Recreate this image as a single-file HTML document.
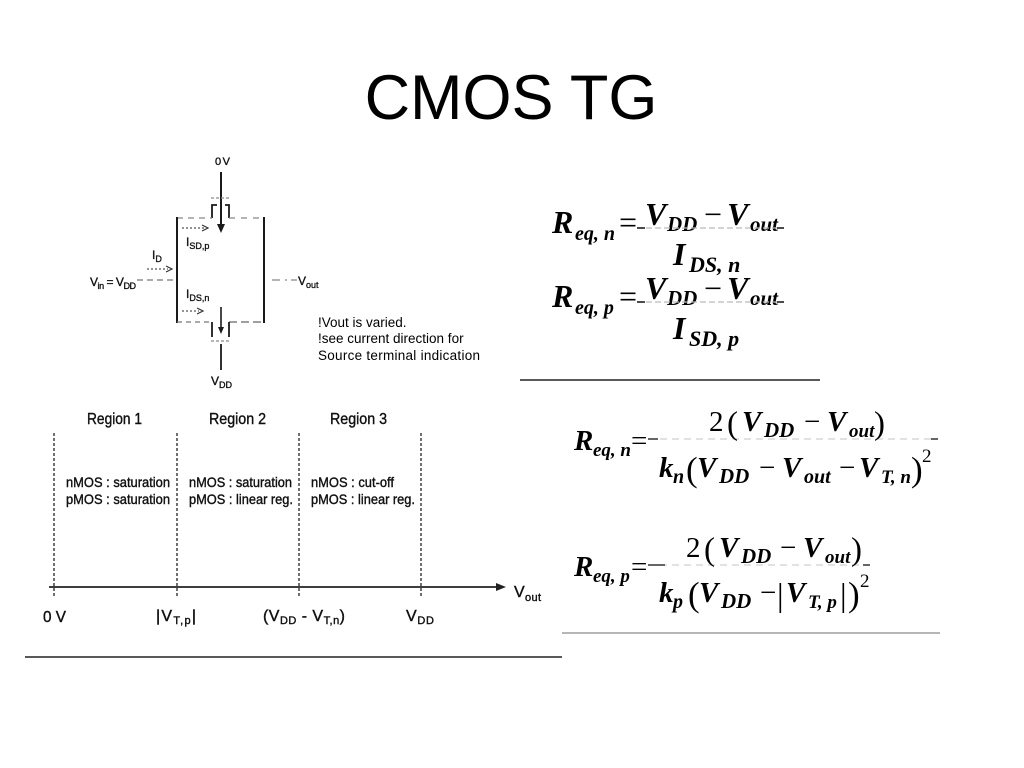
<!DOCTYPE html>
<html><head><meta charset="utf-8">
<style>
html,body{margin:0;padding:0;background:#fff;}
svg{display:block;}
</style></head><body>
<svg width="1024" height="768" viewBox="0 0 1024 768" xmlns="http://www.w3.org/2000/svg">
<rect width="1024" height="768" fill="#fff"/>

<!-- Title -->
<text x="511" y="119" font-family="Liberation Sans, Arial, sans-serif" font-size="63" text-anchor="middle" fill="#000">CMOS TG</text>

<!-- ================= Circuit ================= -->
<g stroke="#1a1a1a" fill="none">
  <line x1="221" y1="172" x2="221" y2="226" stroke-width="2"/>
  <polygon points="217,224 225,224 221,233" fill="#1a1a1a" stroke="none"/>
  <polyline points="212,218 212,205 217,205" stroke-width="1.8"/>
  <polyline points="229,218 229,205 225,205" stroke-width="1.8"/>
  <line x1="211" y1="198" x2="231" y2="198" stroke="#8a8a8a" stroke-dasharray="3 2" stroke-width="1.2"/>
  <line x1="177" y1="218" x2="212" y2="218" stroke="#888" stroke-dasharray="6 5" stroke-width="1.2"/>
  <line x1="229" y1="218" x2="264" y2="218" stroke="#888" stroke-dasharray="6 6" stroke-width="1.2"/>
  <line x1="177" y1="217" x2="177" y2="323" stroke-width="2"/>
  <line x1="264" y1="217" x2="264" y2="323" stroke-width="2"/>
  <line x1="177" y1="322" x2="212" y2="322" stroke="#777" stroke-dasharray="5 4" stroke-width="1.2"/>
  <line x1="229" y1="322" x2="264" y2="322" stroke="#666" stroke-dasharray="8 4" stroke-width="1.2"/>
  <line x1="212" y1="322" x2="212" y2="337" stroke-width="1.8"/>
  <line x1="229" y1="322" x2="229" y2="337" stroke-width="1.8"/>
  <line x1="211" y1="341" x2="231" y2="341" stroke="#8a8a8a" stroke-dasharray="3 2" stroke-width="1.2"/>
  <line x1="221" y1="307" x2="221" y2="328" stroke-width="1.6"/>
  <polygon points="218,327 224,327 221,334" fill="#1a1a1a" stroke="none"/>
  <line x1="221" y1="344" x2="221" y2="370" stroke-width="1.8"/>
  <line x1="137" y1="280" x2="176" y2="280" stroke="#777" stroke-dasharray="6 4" stroke-width="1.2"/>
  <line x1="272" y1="280" x2="297" y2="280" stroke="#888" stroke-dasharray="8 5 2 4" stroke-width="1.2"/>
  <line x1="182" y1="228" x2="204" y2="228" stroke="#555" stroke-dasharray="2 2" stroke-width="1.2"/>
  <polyline points="202,225 208,228 202,231" stroke="#333" stroke-width="1.2"/>
  <line x1="147" y1="269" x2="168" y2="269" stroke="#555" stroke-dasharray="2 2" stroke-width="1.2"/>
  <polyline points="166,266 172,269 166,272" stroke="#333" stroke-width="1.2"/>
  <line x1="182" y1="311" x2="199" y2="311" stroke="#555" stroke-dasharray="2 2" stroke-width="1.2"/>
  <polyline points="197,308 203,311 197,314" stroke="#333" stroke-width="1.2"/>
</g>
<g font-family="Liberation Sans, Arial, sans-serif" fill="#111" stroke="#111" stroke-width="0.35">
  <text x="215" y="165" font-size="11" textLength="15">0 V</text>
  <text x="152" y="259" font-size="12">I<tspan font-size="9" dy="3">D</tspan></text>
  <text x="186" y="246" font-size="12">I<tspan font-size="9" dy="3">SD,p</tspan></text>
  <text x="186" y="298" font-size="12">I<tspan font-size="9" dy="3">DS,n</tspan></text>
  <text x="90" y="286" font-size="12" textLength="46">V<tspan font-size="9" dy="3">in</tspan><tspan dy="-3"> = V</tspan><tspan font-size="9" dy="3">DD</tspan></text>
  <text x="298" y="285" font-size="12">V<tspan font-size="9" dy="3">out</tspan></text>
  <text x="211" y="385" font-size="12">V<tspan font-size="9" dy="3">DD</tspan></text>
</g>

<!-- Note -->
<g font-family="Liberation Sans, Arial, sans-serif" font-size="13.5" fill="#000">
  <text x="318" y="327">!Vout is varied.</text>
  <text x="318" y="343">!see current direction for</text>
  <text x="318" y="360" textLength="162">Source terminal indication</text>
</g>

<!-- ================= Region chart ================= -->
<g stroke="#222" stroke-width="1.3" stroke-dasharray="3 2">
  <line x1="54" y1="433" x2="54" y2="598"/>
  <line x1="177" y1="433" x2="177" y2="598"/>
  <line x1="299" y1="433" x2="299" y2="598"/>
  <line x1="421" y1="433" x2="421" y2="598"/>
</g>
<line x1="49" y1="587" x2="499" y2="587" stroke="#222" stroke-width="1.7"/>
<polygon points="496,583 506,587 496,591" fill="#222"/>
<g font-family="Liberation Sans, Arial, sans-serif" fill="#111" stroke="#111" stroke-width="0.4">
  <text x="87" y="424" font-size="16" textLength="55" lengthAdjust="spacingAndGlyphs">Region 1</text>
  <text x="209" y="424" font-size="16" textLength="57" lengthAdjust="spacingAndGlyphs">Region 2</text>
  <text x="330" y="424" font-size="16" textLength="57" lengthAdjust="spacingAndGlyphs">Region 3</text>

  <text x="66" y="487" font-size="14" textLength="104" lengthAdjust="spacingAndGlyphs">nMOS : saturation</text>
  <text x="66" y="504" font-size="14" textLength="104" lengthAdjust="spacingAndGlyphs">pMOS : saturation</text>
  <text x="189" y="487" font-size="14" textLength="103" lengthAdjust="spacingAndGlyphs">nMOS : saturation</text>
  <text x="189" y="504" font-size="14" textLength="104" lengthAdjust="spacingAndGlyphs">pMOS : linear reg.</text>
  <text x="311" y="487" font-size="14" textLength="83" lengthAdjust="spacingAndGlyphs">nMOS : cut-off</text>
  <text x="311" y="504" font-size="14" textLength="104" lengthAdjust="spacingAndGlyphs">pMOS : linear reg.</text>

  <text x="43" y="622" font-size="16" textLength="23" lengthAdjust="spacingAndGlyphs">0 V</text>
  <text x="156" y="621" font-size="16" textLength="40">|V<tspan font-size="11" dy="3">T,p</tspan><tspan dy="-3">|</tspan></text>
  <text x="263" y="621" font-size="16" textLength="82">(V<tspan font-size="11" dy="3">DD</tspan><tspan dy="-3"> - V</tspan><tspan font-size="11" dy="3">T,n</tspan><tspan dy="-3">)</tspan></text>
  <text x="406" y="621" font-size="16" textLength="28">V<tspan font-size="11" dy="3">DD</tspan></text>
  <text x="514" y="597" font-size="16" textLength="27">V<tspan font-size="11" dy="4">out</tspan></text>
</g>
<line x1="25" y1="657" x2="562" y2="657" stroke="#222" stroke-width="1.5"/>

<!-- ================= Top formulas ================= -->
<g font-family="Liberation Serif, Times New Roman, serif" fill="#000">
  <text x="552" y="233" font-size="32" font-weight="bold" font-style="italic">R</text>
  <text x="575" y="240" font-size="20" font-weight="bold" font-style="italic">eq, n</text>
  <text x="619" y="233" font-size="32">=</text>
  <text x="645" y="225" font-size="32" font-weight="bold" font-style="italic">V</text>
  <text x="667" y="231" font-size="21" font-weight="bold" font-style="italic">DD</text>
  <text x="704" y="225" font-size="32">−</text>
  <text x="727" y="225" font-size="32" font-weight="bold" font-style="italic">V</text>
  <text x="750" y="231" font-size="21" font-weight="bold" font-style="italic">out</text>
  <text x="673" y="265" font-size="32" font-weight="bold" font-style="italic">I</text>
  <text x="689" y="272" font-size="22" font-weight="bold" font-style="italic">DS, n</text>
  <line x1="637" y1="228" x2="784" y2="228" stroke="#bbb" stroke-width="1.2" stroke-dasharray="6 3"/>
  <line x1="637" y1="228" x2="645" y2="228" stroke="#222" stroke-width="1.6"/>
  <line x1="777" y1="228" x2="784" y2="228" stroke="#222" stroke-width="1.6"/>

  <text x="552" y="307" font-size="32" font-weight="bold" font-style="italic">R</text>
  <text x="575" y="314" font-size="20" font-weight="bold" font-style="italic">eq, p</text>
  <text x="619" y="307" font-size="32">=</text>
  <text x="645" y="299" font-size="32" font-weight="bold" font-style="italic">V</text>
  <text x="667" y="305" font-size="21" font-weight="bold" font-style="italic">DD</text>
  <text x="704" y="299" font-size="32">−</text>
  <text x="727" y="299" font-size="32" font-weight="bold" font-style="italic">V</text>
  <text x="750" y="305" font-size="21" font-weight="bold" font-style="italic">out</text>
  <text x="673" y="339" font-size="32" font-weight="bold" font-style="italic">I</text>
  <text x="689" y="346" font-size="22" font-weight="bold" font-style="italic">SD, p</text>
  <line x1="637" y1="302" x2="784" y2="302" stroke="#bbb" stroke-width="1.2" stroke-dasharray="6 3"/>
  <line x1="637" y1="302" x2="645" y2="302" stroke="#222" stroke-width="1.6"/>
  <line x1="777" y1="302" x2="784" y2="302" stroke="#222" stroke-width="1.6"/>
</g>
<line x1="520" y1="380" x2="820" y2="380" stroke="#222" stroke-width="1.5"/>

<!-- ================= Lower formulas ================= -->
<g font-family="Liberation Serif, Times New Roman, serif" fill="#000">
  <text x="574" y="450" font-size="29" font-weight="bold" font-style="italic">R</text>
  <text x="593" y="456" font-size="19" font-weight="bold" font-style="italic">eq, n</text>
  <text x="631" y="450" font-size="29">=</text>
  <line x1="648" y1="439" x2="938" y2="439" stroke="#c4c4c4" stroke-width="1.1" stroke-dasharray="7 5"/>
  <line x1="648" y1="439" x2="658" y2="439" stroke="#333" stroke-width="1.5"/>
  <line x1="931" y1="439" x2="938" y2="439" stroke="#333" stroke-width="1.5"/>

  <text x="709" y="431" font-size="29">2</text>
  <text x="727" y="434" font-size="33">(</text>
  <text x="742" y="431" font-size="29" font-weight="bold" font-style="italic">V</text>
  <text x="764" y="437" font-size="21" font-weight="bold" font-style="italic">DD</text>
  <text x="804" y="431" font-size="29">−</text>
  <text x="827" y="431" font-size="29" font-weight="bold" font-style="italic">V</text>
  <text x="849" y="437" font-size="19" font-weight="bold" font-style="italic">out</text>
  <text x="874" y="434" font-size="33">)</text>

  <text x="659" y="477" font-size="29" font-weight="bold" font-style="italic">k</text>
  <text x="673" y="483" font-size="20" font-weight="bold" font-style="italic">n</text>
  <text x="686" y="481" font-size="35">(</text>
  <text x="697" y="477" font-size="29" font-weight="bold" font-style="italic">V</text>
  <text x="719" y="483" font-size="21" font-weight="bold" font-style="italic">DD</text>
  <text x="759" y="477" font-size="29">−</text>
  <text x="782" y="477" font-size="29" font-weight="bold" font-style="italic">V</text>
  <text x="804" y="483" font-size="20" font-weight="bold" font-style="italic">out</text>
  <text x="839" y="477" font-size="29">−</text>
  <text x="859" y="477" font-size="29" font-weight="bold" font-style="italic">V</text>
  <text x="881" y="483" font-size="19" font-weight="bold" font-style="italic">T, n</text>
  <text x="911" y="481" font-size="35">)</text>
  <text x="922" y="462" font-size="19">2</text>

  <text x="574" y="576" font-size="29" font-weight="bold" font-style="italic">R</text>
  <text x="593" y="582" font-size="19" font-weight="bold" font-style="italic">eq, p</text>
  <text x="631" y="576" font-size="29">=</text>
  <line x1="648" y1="565" x2="870" y2="565" stroke="#c4c4c4" stroke-width="1.1" stroke-dasharray="7 5"/>
  <line x1="648" y1="565" x2="665" y2="565" stroke="#333" stroke-width="1.5"/>
  <line x1="863" y1="565" x2="870" y2="565" stroke="#333" stroke-width="1.5"/>

  <text x="686" y="557" font-size="29">2</text>
  <text x="704" y="560" font-size="33">(</text>
  <text x="719" y="557" font-size="29" font-weight="bold" font-style="italic">V</text>
  <text x="741" y="563" font-size="21" font-weight="bold" font-style="italic">DD</text>
  <text x="780" y="557" font-size="29">−</text>
  <text x="803" y="557" font-size="29" font-weight="bold" font-style="italic">V</text>
  <text x="825" y="563" font-size="19" font-weight="bold" font-style="italic">out</text>
  <text x="851" y="560" font-size="33">)</text>

  <text x="659" y="602" font-size="29" font-weight="bold" font-style="italic">k</text>
  <text x="673" y="608" font-size="20" font-weight="bold" font-style="italic">p</text>
  <text x="688" y="606" font-size="35">(</text>
  <text x="699" y="602" font-size="29" font-weight="bold" font-style="italic">V</text>
  <text x="721" y="608" font-size="21" font-weight="bold" font-style="italic">DD</text>
  <text x="760" y="602" font-size="29">−</text>
  <text x="777" y="606" font-size="33">|</text>
  <text x="786" y="602" font-size="29" font-weight="bold" font-style="italic">V</text>
  <text x="808" y="608" font-size="19" font-weight="bold" font-style="italic">T, p</text>
  <text x="840" y="606" font-size="33">|</text>
  <text x="848" y="606" font-size="35">)</text>
  <text x="860" y="587" font-size="19">2</text>
</g>
<line x1="562" y1="633" x2="940" y2="633" stroke="#8a8a8a" stroke-width="1.2"/>
</svg>
</body></html>
